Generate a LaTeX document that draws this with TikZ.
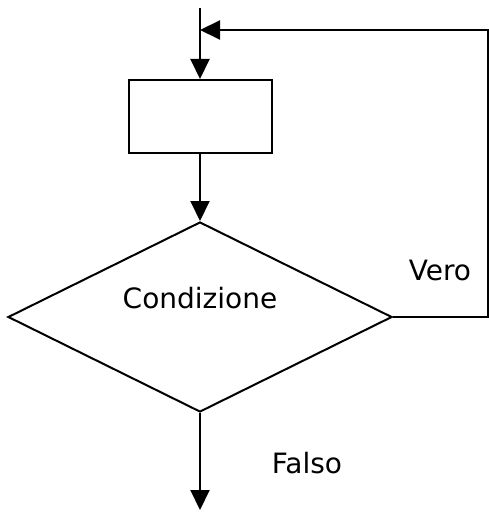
\documentclass[tikz,border=0pt]{standalone}
\usepackage{fontspec}
\setmainfont{DejaVu Sans}
\usetikzlibrary{shapes.geometric,arrows.meta}

\begin{document}
\begin{tikzpicture}
[x=1pt,y=-1pt,
  lineDecorate/.style={line width=2pt,-{Triangle[length=20pt,width=19pt]}},%
  boxDecorate/.style={shape=rectangle,draw,line width=2pt,minimum width=143pt,minimum height=73pt,inner sep=0pt},%
  condDecorate/.style={shape=diamond,draw,line width=2pt,minimum width=384pt,minimum height=190pt,inner sep=0pt},%
  textDecorate/.style={anchor=base,inner sep=0pt,font=\fontsize{28}{33}\selectfont}]
\useasboundingbox (0,0) rectangle (489,516);
%% nodes
\node (box) at (200.5,116.5) [boxDecorate] {};
\node (cond) at (200,317) [condDecorate] {};
\node (condtext) at (200,308) [textDecorate] {Condizione};
\node (vero) at (440,280) [textDecorate] {Vero};
\node (falso) at (307,473) [textDecorate] {Falso};
%% free ends
\foreach \pointname/\x/\y in {start/200/8, join/200/30, loopdown/488/317, loopup/488/30, finish/200/510}
{
  \coordinate (\pointname) at (\x,\y);
}
%% connectors
\draw[lineDecorate] (start) -- (start |- box.north);
\draw[lineDecorate] (cond.north |- box.south) -- (cond.north);
\draw[lineDecorate] (cond.east) -- (loopdown) -- (loopup) -- (join);
\draw[lineDecorate] (cond.south) -- (finish);
\end{tikzpicture}
\end{document}
